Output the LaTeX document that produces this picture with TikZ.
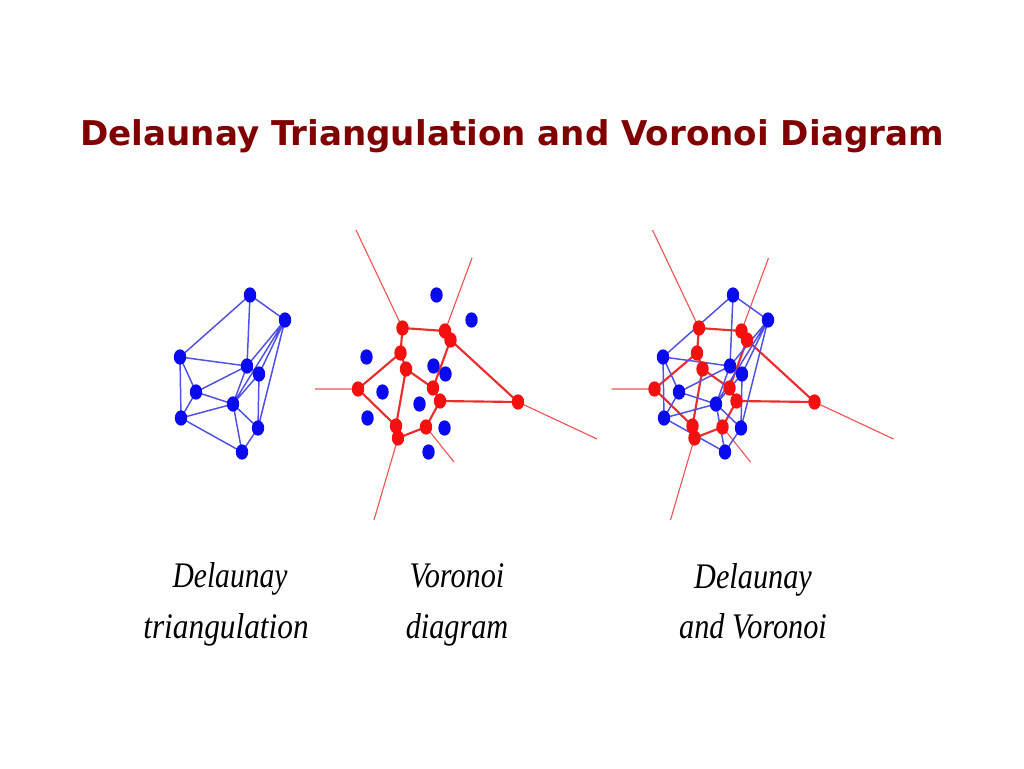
\documentclass[tikz,border=0pt]{standalone}
\usepackage{fontspec}
\setmainfont{Liberation Serif}
\newfontfamily\titlefont{DejaVu Sans}
\usetikzlibrary{shapes.geometric}
\definecolor{titlered}{RGB}{128,0,0}
\definecolor{dotblue}{RGB}{10,10,240}
\definecolor{lineblue}{RGB}{80,80,228}
\definecolor{dotred}{RGB}{245,15,15}
\definecolor{linered}{RGB}{235,45,45}
\definecolor{rayred}{RGB}{238,85,85}
\tikzset{
  bdot/.style={ellipse, fill=dotblue, draw=none, inner sep=0pt, minimum width=9.3pt, minimum height=11.5pt},
  rdot/.style={ellipse, fill=dotred, draw=none, inner sep=0pt, minimum width=9.3pt, minimum height=11.5pt},
  bline/.style={draw=lineblue, line width=1.1pt},
  rline/.style={draw=linered, line width=1.6pt},
  rray/.style={draw=rayred, line width=0.85pt},
  captext/.style={anchor=base, inner sep=0pt, font=\itshape\fontsize{27}{27}\selectfont},
  titletext/.style={anchor=base, inner sep=0pt, text=titlered, font=\titlefont\bfseries\fontsize{25.6}{25.6}\selectfont}
}
\newcommand\siteCoords[1]{%
  \coordinate (#1A) at (250,295);
  \coordinate (#1B) at (285,320);
  \coordinate (#1C) at (180,357);
  \coordinate (#1D) at (247,366);
  \coordinate (#1E) at (259,374);
  \coordinate (#1F) at (196,392);
  \coordinate (#1G) at (233,404);
  \coordinate (#1H) at (181,418);
  \coordinate (#1I) at (258,428);
  \coordinate (#1J) at (242,452);
}
\newcommand\siteEdges[1]{%
  \draw[bline] (#1A)--(#1B) (#1A)--(#1C) (#1A)--(#1D) (#1B)--(#1D) (#1B)--(#1E)
    (#1B)--(#1G) (#1B)--(#1I) (#1C)--(#1D) (#1C)--(#1F) (#1C)--(#1H)
    (#1D)--(#1E) (#1D)--(#1F) (#1D)--(#1G) (#1E)--(#1G) (#1E)--(#1I)
    (#1F)--(#1G) (#1F)--(#1H) (#1G)--(#1H) (#1G)--(#1I) (#1G)--(#1J)
    (#1H)--(#1J) (#1I)--(#1J);
}
\newcommand\siteDots[1]{%
  \foreach \p in {A,B,C,D,E,F,G,H,I,J}{\node[bdot] (#1\p dot) at (#1\p) {};}
}
\newcommand\voroCoords[1]{%
  \coordinate (#1V1) at (216,328);
  \coordinate (#1V2) at (258.5,331);
  \coordinate (#1V3) at (264,340);
  \coordinate (#1V4) at (214,353);
  \coordinate (#1V5) at (219.5,369);
  \coordinate (#1V6) at (171.5,389);
  \coordinate (#1V7) at (246.5,388);
  \coordinate (#1V8) at (253.5,401);
  \coordinate (#1V9) at (331.5,402);
  \coordinate (#1V10) at (209.5,426);
  \coordinate (#1V11) at (211.5,438);
  \coordinate (#1V12) at (239.5,427);
  \coordinate (#1R1) at (169.5,230);
  \coordinate (#1R2) at (285.5,258);
  \coordinate (#1R3) at (128.5,389);
  \coordinate (#1R4) at (410.5,439);
  \coordinate (#1R5) at (187.5,520);
  \coordinate (#1R6) at (267.5,462);
}
\newcommand\voroEdges[1]{%
  \draw[rray] (#1V1)--(#1R1) (#1V2)--(#1R2) (#1V6)--(#1R3) (#1V9)--(#1R4)
    (#1V11)--(#1R5) (#1V12)--(#1R6);
  \draw[rline] (#1V1)--(#1V2) (#1V1)--(#1V4) (#1V4)--(#1V5) (#1V4)--(#1V6)
    (#1V5)--(#1V7) (#1V5)--(#1V10) (#1V6)--(#1V10) (#1V10)--(#1V11)
    (#1V11)--(#1V12) (#1V12)--(#1V8) (#1V7)--(#1V8) (#1V7)--(#1V3)
    (#1V2)--(#1V3) (#1V3)--(#1V9) (#1V8)--(#1V9);
}
\newcommand\voroDots[1]{%
  \foreach \p in {V1,V2,V3,V4,V5,V6,V7,V8,V9,V10,V11,V12}{\node[rdot] (#1\p dot) at (#1\p) {};}
}
\begin{document}
\begin{tikzpicture}[x=0.75pt,y=-0.75pt]
\useasboundingbox (0,0) rectangle (1024,768);
\fill[white] (0,0) rectangle (1024,768);
\node[titletext] (title) at (512,145) {Delaunay Triangulation and Voronoi Diagram};
% panel 1: Delaunay triangulation
\siteCoords{p}
\siteEdges{p}
\siteDots{p}
% panel 2: Voronoi diagram
\begin{scope}[shift={(186.5,0)}]
  \siteCoords{q}
  \voroCoords{q}
\end{scope}
\voroEdges{q}
\voroDots{q}
\siteDots{q}
% panel 3: both
\begin{scope}[shift={(483,0)}]
  \siteCoords{r}
  \voroCoords{r}
\end{scope}
\voroEdges{r}
\siteEdges{r}
\voroDots{r}
\siteDots{r}
% captions
\node[captext] (c1a) at (230,587) {\scalebox{0.82}[1]{Delaunay}};
\node[captext] (c1b) at (226,638) {\scalebox{0.87}[1]{triangulation}};
\node[captext] (c2a) at (457,587) {\scalebox{0.84}[1]{Voronoi}};
\node[captext] (c2b) at (457,638) {\scalebox{0.84}[1]{diagram}};
\node[captext] (c3a) at (753,588) {\scalebox{0.84}[1]{Delaunay}};
\node[captext] (c3b) at (753,638) {\scalebox{0.84}[1]{and Voronoi}};
\end{tikzpicture}
\end{document}
